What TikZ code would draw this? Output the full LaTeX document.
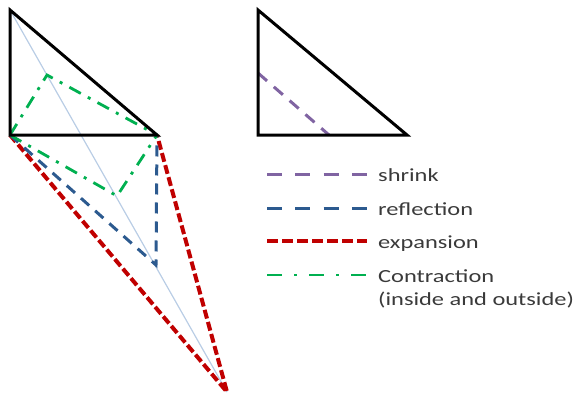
\documentclass[tikz,border=0pt]{standalone}
\usepackage{fontspec}
\setmainfont{Carlito}
\definecolor{tri}{HTML}{000000}
\definecolor{shrinkc}{HTML}{8064A2}
\definecolor{reflc}{HTML}{2C5A8F}
\definecolor{expc}{HTML}{C00000}
\definecolor{contc}{HTML}{00B050}
\definecolor{axisc}{HTML}{B9CDE5}
\definecolor{txt}{HTML}{3A3A3A}
\tikzset{
  trianglestyle/.style={draw=tri, line width=3pt, line join=miter},
  shrinkline/.style={draw=shrinkc, line width=3pt, dash pattern=on 12pt off 9pt},
  reflline/.style={draw=reflc, line width=3pt, dash pattern=on 11pt off 8pt},
  expline/.style={draw=expc, line width=4pt, dash pattern=on 9pt off 3.5pt},
  contline/.style={draw=contc, line width=2.8pt, dash pattern=on 13pt off 8pt on 3pt off 8pt},
  axisline/.style={draw=axisc, line width=1.2pt},
  legtext/.style={anchor=base west, inner sep=0pt, text=txt, font=\fontsize{18.5}{20}\selectfont},
}
\newcommand{\wide}[1]{\scalebox{1.32}[1]{#1}}
\begin{document}
\begin{tikzpicture}[x=1pt, y=-1pt]
\useasboundingbox (0,0) rectangle (579,397);
% points of the left simplex
\coordinate (A) at (10,10);
\coordinate (B) at (10,135);
\coordinate (C) at (157,135);
\coordinate (E) at (227,392);
\coordinate (R) at (156,265);
\coordinate (CI) at (47,75);
\coordinate (CO) at (117,196);
% axis line
\draw[axisline] (A) -- (E);
% expansion
\draw[expline] (B) -- (E) -- (C);
% reflection
\draw[reflline] (B) -- (R) -- (C);
% contraction
\draw[contline] (B) -- (CI) -- (C);
\draw[contline] (B) -- (CO) -- (C);
% triangle
\draw[trianglestyle] (A) -- (B) -- (C) -- cycle;
% right triangle
\coordinate (A2) at (258,10);
\coordinate (B2) at (258,135);
\coordinate (C2) at (407,135);
\coordinate (S1) at (258,73);
\coordinate (S2) at (329,135);
\draw[shrinkline] (S1) -- (S2);
\draw[trianglestyle] (A2) -- (B2) -- (C2) -- cycle;
% legend
\coordinate (L1a) at (267,174); \coordinate (L1b) at (367,174);
\coordinate (L2a) at (267,208); \coordinate (L2b) at (367,208);
\coordinate (L3a) at (267,241); \coordinate (L3b) at (367,241);
\coordinate (L4a) at (267,275); \coordinate (L4b) at (367,275);
\draw[shrinkline, dash pattern=on 15pt off 13.3pt] (L1a) -- (L1b);
\draw[reflline, dash pattern=on 15pt off 13.3pt] (L2a) -- (L2b);
\draw[expline, line width=3.4pt, dash pattern=on 11pt off 4pt] (L3a) -- (L3b);
\draw[contline, dash pattern=on 15pt off 12pt on 3pt off 12pt] (L4a) -- (L4b);
\node[legtext] (t1) at (378,181) {\wide{shrink}};
\node[legtext] (t2) at (378,215) {\wide{reflection}};
\node[legtext] (t3) at (378,248) {\wide{expansion}};
\node[legtext] (t4) at (378,282) {\wide{Contraction}};
\node[legtext] (t5) at (378,305) {\wide{(inside and outside)}};
\end{tikzpicture}
\end{document}
